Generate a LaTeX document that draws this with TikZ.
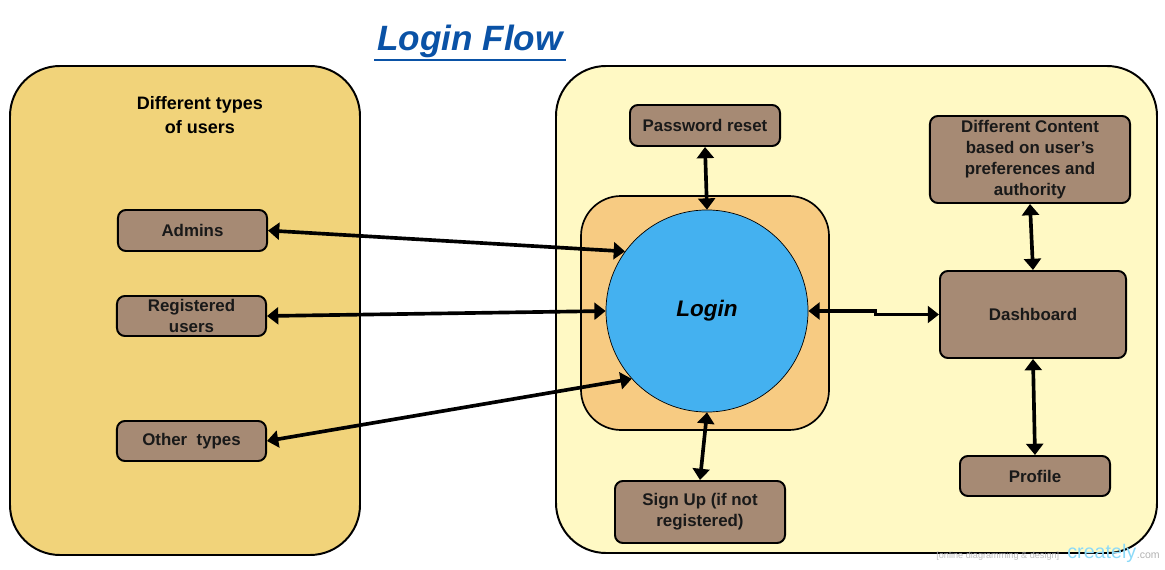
\documentclass[tikz,border=0pt]{standalone}
\usepackage{fontspec}
\setmainfont{Liberation Sans}
\usepackage{xcolor}
\usetikzlibrary{arrows.meta, positioning}

\definecolor{panelL}{HTML}{F1D37A}
\definecolor{panelR}{HTML}{FFF9C4}
\definecolor{innerbox}{HTML}{F7CB82}
\definecolor{loginblue}{HTML}{44B1F0}
\definecolor{boxbrown}{HTML}{A68A74}
\definecolor{titleblue}{HTML}{0A52A6}

\begin{document}
\begin{tikzpicture}[x=0.025cm, y=-0.025cm,
  item/.style={draw=black, line width=1.4pt, fill=boxbrown, rounded corners=0.2cm,
               align=center, inner sep=2pt, text=black!90,
               font=\fontsize{12}{15}\selectfont\bfseries},
  biarr/.style={{Triangle[length=8pt,width=12pt]}-{Triangle[length=8pt,width=12pt]},
                line width=2.6pt}
]
  \useasboundingbox (0,0) rectangle (1165,570);

  % Title
  \node[font=\fontsize{25}{28}\selectfont\bfseries\itshape, text=titleblue] (title) at (470,41) {Login Flow};
  \draw[titleblue, line width=1.5pt] (374,60) -- (566,60);

  % Panels
  \draw[line width=1.4pt, fill=panelL, rounded corners=1.25cm] (10,66) rectangle (360,555);
  \draw[line width=1.4pt, fill=panelR, rounded corners=1.25cm] (556,66) rectangle (1157,553);
  \draw[line width=1.2pt, fill=innerbox, rounded corners=1cm] (581,196) rectangle (829,430);
  \node[font=\fontsize{12.8}{16.5}\selectfont\bfseries, align=center] (types) at (200,115)
    {Different types\\of users};

  % Users
  \node[item, minimum width=3.725cm, minimum height=1.025cm] (admins) at (192.5,230.5) {Admins};
  \node[item, minimum width=3.725cm, minimum height=1cm] (reg) at (191.5,316) {Registered\\users};
  \node[item, minimum width=3.725cm, minimum height=1cm] (other) at (191.5,441) {Other~ types};

  % Login
  \node[circle, draw, line width=0.5pt, fill=loginblue, minimum size=5.05cm, inner sep=0pt,
        font=\fontsize{16}{18}\selectfont\bfseries\itshape] (login) at (707,311) {Login};
  \node[item, minimum width=3.75cm, minimum height=1.025cm] (reset) at (705,125.5) {Password reset};
  \node[item, minimum width=4.25cm, minimum height=1.55cm] (signup) at (700,512) {Sign Up (if not\\registered)};

  % Dashboard side
  \node[item, minimum width=5cm, minimum height=2.175cm] (content) at (1030,159.5)
    {Different Content\\based on user's\\preferences and\\authority};
  \node[item, minimum width=4.65cm, minimum height=2.175cm] (dash) at (1033,314.5) {Dashboard};
  \node[item, minimum width=3.75cm, minimum height=1cm] (profile) at (1035,476) {Profile};

  % Connectors
  \draw[biarr] (admins.east) -- (login.144);
  \draw[biarr] (reg.east) -- (login.180);
  \draw[biarr] (other.east) -- (login.222);
  \draw[biarr] (reset.south) -- (login.north);
  \draw[biarr] (signup.north) -- (login.south);
  \draw[biarr] (login.east) -- ++(67,0) |- (dash.west);
  \draw[biarr] (content.south) -- (dash.north);
  \draw[biarr] (dash.south) -- (profile.north);

  % Watermark
  \node[font=\fontsize{7.5}{8}\selectfont, text=gray!60, anchor=base east, inner sep=0pt] (com) at (1160,558) {.com};
  \node[font=\fontsize{14}{15}\selectfont, text=cyan!45, anchor=base east, inner sep=0pt] (crea) at (com.base west) {creately};
  \node[font=\fontsize{6.5}{7}\selectfont, text=gray!50, anchor=base east] (wm) at ([xshift=-2pt]crea.base west)
    {[online diagramming \& design]};
\end{tikzpicture}
\end{document}
